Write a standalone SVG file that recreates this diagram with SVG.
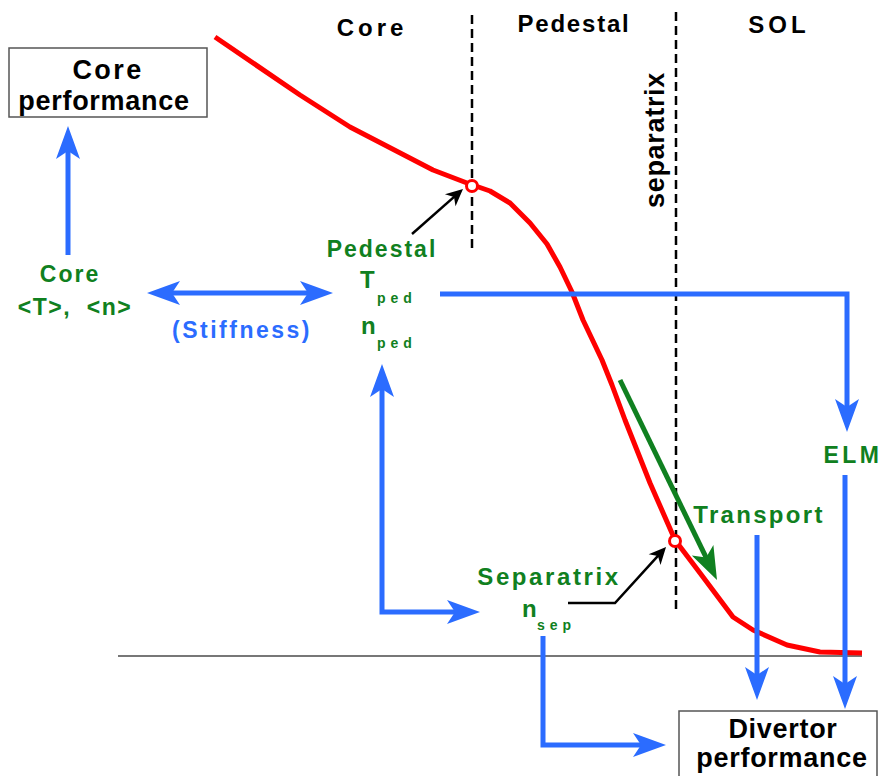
<svg xmlns="http://www.w3.org/2000/svg" width="885" height="776" viewBox="0 0 885 776">
<style>
text{font-family:"Liberation Sans",Arial,sans-serif;font-weight:bold}
.blk{fill:#000}
.grn{fill:#108020}
.blu{fill:#2b6cff}
.box{fill:#fff;stroke:#555;stroke-width:1.5}
.bl{fill:none;stroke:#2b6cff;stroke-width:5}
.dash{stroke:#000;stroke-width:2.5;stroke-dasharray:9 5;fill:none}
.ptr{fill:none;stroke:#000;stroke-width:2.5}
.mk{fill:#fff;stroke:#f00;stroke-width:3}
</style>
<defs>
<marker id="ab" markerUnits="userSpaceOnUse" orient="auto-start-reverse" refX="-22" refY="0" markerWidth="40" markerHeight="30" overflow="visible">
<path d="M0,0 L-33,-12 L-25,0 L-33,12 Z" fill="#2b6cff"/>
</marker>
<marker id="ag" markerUnits="userSpaceOnUse" orient="auto" refX="-22" refY="0" markerWidth="40" markerHeight="30" overflow="visible">
<path d="M0,0 L-33,-12 L-25,0 L-33,12 Z" fill="#108020"/>
</marker>
<marker id="ak" markerUnits="userSpaceOnUse" orient="auto" refX="-10" refY="0" markerWidth="20" markerHeight="20" overflow="visible">
<path d="M0,0 L-17,-8 L-12,0 L-17,8 Z" fill="#000"/>
</marker>
</defs>
<rect width="885" height="776" fill="#fff"/>

<g id="axes">
<line x1="118" y1="656" x2="862" y2="656" stroke="#777" stroke-width="2"/>
<line class="dash" x1="472" y1="15" x2="472" y2="248"/>
<line class="dash" x1="676" y1="12" x2="676" y2="612"/>
</g>

<g id="region-labels">
<text class="blk" x="372" y="36" font-size="24" letter-spacing="4" text-anchor="middle">Core</text>
<text class="blk" x="574" y="32" font-size="24" letter-spacing="1.8" text-anchor="middle">Pedestal</text>
<text class="blk" x="779" y="33" font-size="24" letter-spacing="4" text-anchor="middle">SOL</text>
<text class="blk" transform="translate(664,140) rotate(-90)" font-size="27" letter-spacing="0.7" text-anchor="middle">separatrix</text>
</g>

<g id="profile">
<polyline points="215,37 300,95 350,127 433,170 467,183 490,191 510,203 530,223 547,244 560,267 572,292 583,320 602,360 612,385 625,420 650,483 675,540 700,573 733,617 753,630 787,645 820,652 862,653" fill="none" stroke="#f00" stroke-width="5" stroke-linejoin="round" stroke-linecap="butt"/>
<circle class="mk" cx="472" cy="186" r="5.5"/>
<circle class="mk" cx="675" cy="541" r="5.5"/>
</g>

<g id="core-performance">
<rect class="box" x="9" y="48" width="198" height="69"/>
<text class="blk" x="108" y="79" font-size="27" letter-spacing="2.4" text-anchor="middle">Core</text>
<text class="blk" x="104" y="110" font-size="27" letter-spacing="0.7" text-anchor="middle">performance</text>
</g>

<g id="core">
<text class="grn" x="70" y="282" font-size="23" letter-spacing="2" text-anchor="middle">Core</text>
<text class="grn" x="75" y="315" font-size="23" letter-spacing="1.5" text-anchor="middle" xml:space="preserve">&lt;T&gt;,  &lt;n&gt;</text>
</g>

<g id="stiffness">
<text class="blu" x="242" y="338" font-size="23" letter-spacing="2.5" text-anchor="middle">(Stiffness)</text>
</g>

<g id="pedestal">
<text class="grn" x="382" y="257" font-size="23" letter-spacing="2" text-anchor="middle">Pedestal</text>
<text class="grn" x="360" y="288" font-size="24">T</text>
<text class="grn" x="377" y="303" font-size="14" letter-spacing="5">ped</text>
<text class="grn" x="361" y="334" font-size="24">n</text>
<text class="grn" x="377" y="348" font-size="14" letter-spacing="5">ped</text>
</g>

<g id="elm">
<text class="grn" x="853" y="463" font-size="23" letter-spacing="3.5" text-anchor="middle">ELM</text>
</g>

<g id="transport">
<text class="grn" x="759" y="523" font-size="24" letter-spacing="2.3" text-anchor="middle">Transport</text>
</g>

<g id="separatrix">
<text class="grn" x="549" y="585" font-size="24" letter-spacing="2.6" text-anchor="middle">Separatrix</text>
<text class="grn" x="522" y="617" font-size="24">n</text>
<text class="grn" x="537" y="630" font-size="14" letter-spacing="5">sep</text>
</g>

<g id="divertor-performance">
<rect class="box" x="679" y="711" width="198" height="80"/>
<text class="blk" x="783" y="738" font-size="27" letter-spacing="0.7" text-anchor="middle">Divertor</text>
<text class="blk" x="782" y="767" font-size="27" letter-spacing="0.7" text-anchor="middle">performance</text>
</g>

<g id="connectors">
<path class="bl" d="M68,255 V148" marker-end="url(#ab)"/>
<path class="bl" d="M169,293 H311" marker-start="url(#ab)" marker-end="url(#ab)"/>
<path class="bl" d="M440,294 H847 V410" marker-end="url(#ab)"/>
<path class="bl" d="M845,475 V687" marker-end="url(#ab)"/>
<path class="bl" d="M757,535 V678" marker-end="url(#ab)"/>
<path class="bl" d="M382,386 V612 H458" marker-start="url(#ab)" marker-end="url(#ab)"/>
<path class="bl" d="M543,636 V745 H644" marker-end="url(#ab)"/>
<path d="M620,380 L707.4,560.2" fill="none" stroke="#108020" stroke-width="5" marker-end="url(#ag)"/>
<path class="ptr" d="M412,234 L455.5,195.6" marker-end="url(#ak)"/>
<path class="ptr" d="M568,603 H615 L659.3,554.4" marker-end="url(#ak)"/>
</g>
</svg>
